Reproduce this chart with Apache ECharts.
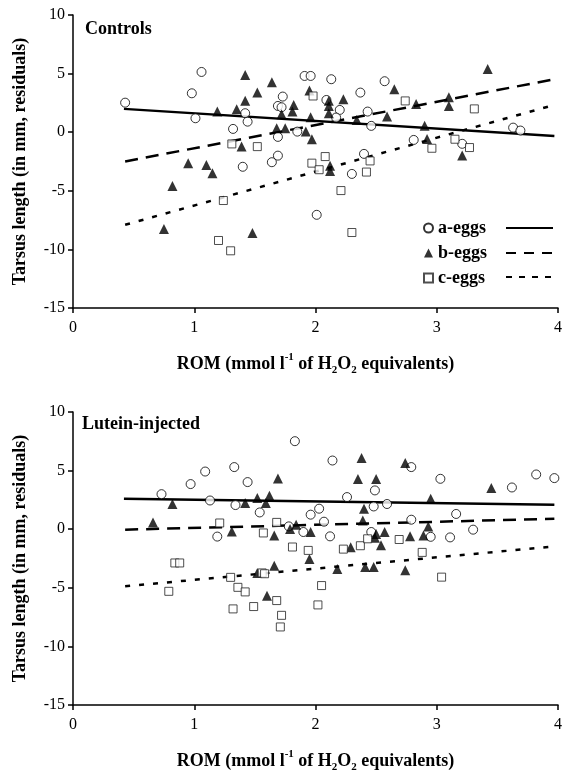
<!DOCTYPE html>
<html>
<head>
<meta charset="utf-8">
<script src="https://cdn.jsdelivr.net/npm/echarts@6/dist/echarts.min.js"></script>
<style>
html,body{margin:0;padding:0;background:#fff;}
#chart{width:565px;height:774px;}
</style>
</head>
<body>
<div id="chart"></div>
<script>
// ---- Data (x = ROM, y = tarsus residual) ----
const xTicks = [0, 1, 2, 3, 4];
const yTicks = [-15, -10, -5, 0, 5, 10];
const seriesNames = ['a-eggs', 'b-eggs', 'c-eggs'];
const panelTitles = ['Controls', 'Lutein-injected'];

const controlsA = [[0.43,2.52],[1.06,5.14],[0.98,3.32],[1.01,1.19],[1.32,0.28],[1.42,1.62],[1.44,0.90],[1.73,3.04],[1.69,2.24],[1.72,2.13],[1.69,-0.40],[1.69,-2.00],[1.64,-2.56],[1.40,-2.95],[1.85,0.05],[1.91,4.80],[1.96,4.80],[2.13,4.52],[2.37,3.38],[2.57,4.35],[2.09,2.75],[2.20,1.90],[2.17,1.25],[2.43,1.76],[2.46,0.54],[2.40,-1.85],[2.81,-0.66],[3.21,-0.99],[3.63,0.39],[3.69,0.14],[2.30,-3.56],[2.01,-7.05]];
const controlsB = [[1.42,4.88],[1.64,4.26],[1.52,3.38],[1.42,2.69],[1.19,1.76],[1.35,1.96],[1.72,1.53],[1.81,1.76],[1.82,2.33],[1.68,0.34],[1.75,0.34],[1.39,-1.23],[0.95,-2.64],[1.10,-2.79],[1.15,-3.50],[0.82,-4.58],[0.75,-8.27],[1.48,-8.61],[1.95,3.55],[2.11,2.69],[2.23,2.81],[2.11,2.24],[2.11,1.62],[1.96,1.28],[1.92,0.05],[1.97,-0.60],[2.34,1.05],[2.59,1.33],[2.65,3.67],[2.83,2.41],[3.10,2.98],[3.10,2.24],[3.42,5.40],[2.90,0.56],[2.92,-0.57],[3.21,-1.99],[2.12,-2.87],[2.12,-3.30]];
const controlsC = [[1.31,-1.00],[1.52,-1.23],[1.24,-5.83],[1.20,-9.24],[1.30,-10.12],[1.98,3.09],[2.74,2.67],[3.31,1.99],[1.97,-2.64],[2.08,-2.08],[2.03,-3.20],[2.45,-2.45],[2.42,-3.40],[2.96,-1.37],[3.15,-0.60],[3.27,-1.31],[2.21,-4.98],[2.30,-8.56]];
const controlsFitA = [[0.42,1.99],[3.97,-0.32]];
const controlsFitB = [[0.43,-2.50],[3.97,4.52]];
const controlsFitC = [[0.43,-7.90],[3.97,2.33]];

const luteinA = [[0.73,2.99],[1.09,4.92],[0.97,3.85],[1.13,2.45],[1.33,5.30],[1.44,4.02],[1.34,2.06],[1.54,1.43],[1.83,7.51],[1.19,-0.63],[1.78,0.24],[2.14,5.86],[2.79,5.30],[3.03,4.30],[3.62,3.56],[3.82,4.67],[3.97,4.36],[2.49,3.31],[2.26,2.74],[2.48,1.94],[2.59,2.15],[2.03,1.75],[1.96,1.24],[2.07,0.64],[1.90,-0.24],[2.79,0.81],[3.16,1.30],[3.30,-0.04],[2.12,-0.61],[2.46,-0.24],[2.95,-0.65],[3.11,-0.70]];
const luteinB = [[0.66,0.58],[0.82,2.15],[1.69,4.32],[1.52,2.66],[1.42,2.23],[1.62,2.86],[1.59,2.23],[1.31,-0.19],[1.66,-0.53],[1.79,0.02],[1.84,0.38],[2.38,6.07],[2.74,5.64],[2.35,4.28],[2.50,4.28],[3.45,3.51],[2.95,2.60],[2.40,1.75],[2.39,0.75],[2.93,0.24],[1.96,-0.24],[2.57,-0.24],[2.50,-0.41],[2.49,-0.72],[2.78,-0.61],[2.89,-0.53],[2.54,-1.38],[2.29,-1.53],[1.95,-2.54],[2.18,-3.39],[2.41,-3.22],[2.48,-3.22],[2.74,-3.51],[1.66,-3.11],[1.52,-3.73],[1.60,-5.67]];
const luteinC = [[1.21,0.53],[1.68,0.58],[1.57,-0.32],[1.81,-1.52],[0.84,-2.88],[0.88,-2.88],[0.79,-5.30],[1.30,-4.11],[1.36,-4.96],[1.42,-5.35],[1.56,-3.73],[1.58,-3.80],[1.32,-6.80],[1.49,-6.60],[1.68,-6.09],[1.72,-7.35],[1.71,-8.34],[1.94,-1.81],[2.23,-1.70],[2.37,-1.41],[2.43,-0.82],[2.69,-0.88],[2.88,-1.98],[3.04,-4.09],[2.05,-4.81],[2.02,-6.46]];
const luteinFitA = [[0.42,2.60],[3.97,2.09]];
const luteinFitB = [[0.43,-0.04],[3.97,0.89]];
const luteinFitC = [[0.43,-4.87],[3.97,-1.47]];

// ---- Styles ----
const SERIF = '"Liberation Serif","Times New Roman",serif';
const markerStyles = [
  {symbol: 'circle', symbolSize: 9, itemStyle: {color: '#fff', borderColor: '#000', borderWidth: 1}},
  {symbol: 'triangle', symbolSize: 10, itemStyle: {color: '#000', borderWidth: 0}},
  {symbol: 'rect', symbolSize: 8, itemStyle: {color: '#fff', borderColor: '#222', borderWidth: 1}}
];
const lineDashes = ['solid', [13, 8], [5, 9]];

const grids = [
  {left: 73, top: 15, width: 488, height: 293},
  {left: 73, top: 412, width: 488, height: 294}
];

function xAxisFor(i) {
  return {
    type: 'value', gridIndex: i, min: xTicks[0], max: xTicks[xTicks.length - 1], interval: 1,
    axisLine: {show: true, onZero: false, lineStyle: {color: '#000', width: 1.5}},
    axisTick: {show: true, inside: false, length: 5, lineStyle: {color: '#000', width: 1.5}},
    axisLabel: {color: '#000', fontFamily: SERIF, fontSize: 16, margin: 12},
    splitLine: {show: false},
    name: '{b|ROM (mmol l}{sup|-1}{b| of H}{sub|2}{b|O}{sub|2}{b| equivalents)}',
    nameLocation: 'middle', nameGap: 44,
    nameTextStyle: {
      rich: {
        b: {fontFamily: SERIF, fontSize: 18, fontWeight: 'bold', color: '#000', lineHeight: 24},
        sup: {fontFamily: SERIF, fontSize: 11, fontWeight: 'bold', color: '#000', verticalAlign: 'top', lineHeight: 11},
        sub: {fontFamily: SERIF, fontSize: 11, fontWeight: 'bold', color: '#000', verticalAlign: 'bottom', lineHeight: 11}
      }
    }
  };
}
function yAxisFor(i) {
  return {
    type: 'value', gridIndex: i, min: yTicks[0], max: yTicks[yTicks.length - 1], interval: 5,
    axisLine: {show: true, onZero: false, lineStyle: {color: '#000', width: 1.5}},
    axisTick: {show: true, inside: false, length: 5, lineStyle: {color: '#000', width: 1.5}},
    axisLabel: {color: '#000', fontFamily: SERIF, fontSize: 16, margin: 8},
    splitLine: {show: false},
    name: 'Tarsus length (in mm, residuals)',
    nameLocation: 'middle', nameRotate: 90, nameGap: 44,
    nameTextStyle: {fontFamily: SERIF, fontSize: 18, fontWeight: 'bold', color: '#000'}
  };
}

const panels = [
  {points: [controlsA, controlsB, controlsC], fits: [controlsFitA, controlsFitB, controlsFitC]},
  {points: [luteinA, luteinB, luteinC], fits: [luteinFitA, luteinFitB, luteinFitC]}
];

const series = [];
panels.forEach((p, gi) => {
  p.fits.forEach((f, k) => {
    series.push({
      type: 'line', name: seriesNames[k] + ' fit', xAxisIndex: gi, yAxisIndex: gi,
      data: f, showSymbol: false, silent: true, z: 2,
      lineStyle: {color: '#000', width: 2.5, type: lineDashes[k]}
    });
  });
  p.points.forEach((pts, k) => {
    series.push(Object.assign({
      type: 'scatter', name: seriesNames[k], xAxisIndex: gi, yAxisIndex: gi,
      data: pts, z: 3
    }, JSON.parse(JSON.stringify(markerStyles[k]))));
  });
});

// legend line samples
const legendRowsY = [228, 253, 277];
const legendGraphics = legendRowsY.map((y, k) => ({
  type: 'line', shape: {x1: 506, y1: y, x2: 553, y2: y},
  style: {stroke: '#000', lineWidth: 2, lineDash: k === 0 ? null : (k === 1 ? [10, 8] : [6, 7])}
}));

const option = {
  backgroundColor: '#fff',
  animation: false,
  title: [
    {text: panelTitles[0], left: 85, top: 20, padding: 0, textStyle: {fontFamily: SERIF, fontSize: 18, fontWeight: 'bold', color: '#000'}},
    {text: panelTitles[1], left: 82, top: 415, padding: 0, textStyle: {fontFamily: SERIF, fontSize: 18, fontWeight: 'bold', color: '#000'}}
  ],
  grid: grids,
  xAxis: [xAxisFor(0), xAxisFor(1)],
  yAxis: [yAxisFor(0), yAxisFor(1)],
  legend: {
    data: seriesNames, orient: 'vertical', left: 423, top: 219, padding: 0,
    itemWidth: 9, itemHeight: 9, itemGap: 7, selectedMode: false,
    textStyle: {fontFamily: SERIF, fontSize: 18, fontWeight: 'bold', color: '#000', lineHeight: 18}
  },
  graphic: legendGraphics,
  series: series
};

const chart = echarts.init(document.getElementById('chart'), null, {renderer: 'canvas'});
chart.setOption(option);
</script>
</body>
</html>
